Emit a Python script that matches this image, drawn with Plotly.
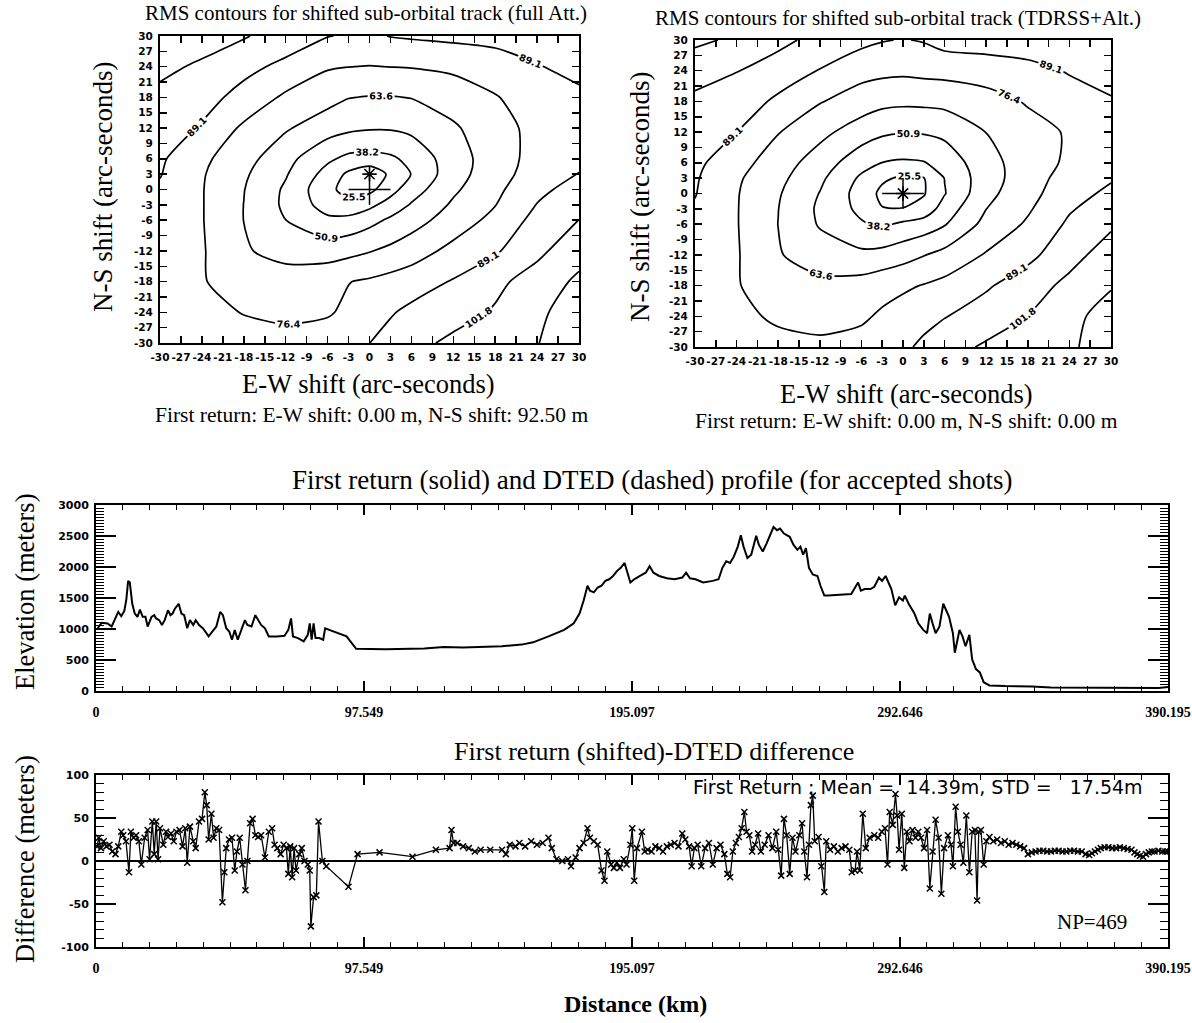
import plotly.graph_objects as go

# ---------------- data ----------------
# RMS grid (metres), on the arc-second shift grid
grid_arcsec = [-30, -24, -18, -12, -6, -3, 0, 3, 6, 12, 18, 24, 30]

rms_full_att = [
    [84, 82, 80, 80, 83, 86, 89, 93.5, 98, 104.5, 109.5, 114, 124],
    [83, 79, 76, 74, 75, 79, 83.5, 88, 92, 97, 103, 112, 121],
    [82, 77, 72, 70, 72.5, 76, 78, 80.5, 83, 90, 99, 107, 117],
    [84, 77.5, 65, 59, 58, 60, 63, 66.5, 70.5, 80, 87.5, 99, 109.5],
    [85, 77, 63.5, 51, 41, 42, 47, 53, 58.5, 69.5, 80, 93, 102],
    [86, 77, 63.5, 48.5, 32.5, 29.5, 35, 43.5, 52, 65.5, 76, 89.5, 98],
    [87.5, 77, 64, 49, 29, 20.5, 22, 33.5, 45, 61.5, 73.5, 86, 94],
    [89.7, 77.5, 65.5, 52, 33.5, 23, 16, 28, 38.5, 58.5, 71, 82.5, 89.5],
    [91, 79, 68.5, 55, 40.5, 35, 34, 36, 41.5, 58, 70, 81, 86],
    [95, 88, 74, 65, 56.5, 53.5, 52, 52, 54, 62, 71, 80.5, 85],
    [99, 93, 85.5, 74, 68, 64, 63, 63, 64, 69, 75.5, 83, 87],
    [104.5, 100, 92, 86.5, 77.5, 76.5, 76, 76.5, 77, 79, 83, 88.5, 92],
    [112, 107, 103, 95, 89.5, 88, 87, 89.5, 90.5, 92, 93, 94, 96],
]

rms_tdrss_alt = [
    [83.8, 81.2, 79, 78.5, 81, 84.2, 87.3, 91, 97, 103.5, 108, 112, 123],
    [82.8, 78.5, 75, 73, 74.4, 78.2, 82.1, 86.1, 88.5, 95.2, 102, 110.8, 120],
    [82.5, 77.1, 70.2, 67.2, 68.9, 72, 74.2, 77, 79.9, 87.5, 96.1, 105, 113.5],
    [84.2, 77.4, 64.6, 57, 53.8, 55.5, 59, 63.1, 67.5, 77.4, 85.6, 97.5, 107.6],
    [85.5, 77, 63.5, 49.8, 39.5, 36, 40.5, 44, 50, 67.5, 78, 91.2, 100],
    [88, 77, 63.8, 48.8, 35, 26, 26.3, 30, 44, 63.5, 74.8, 87.8, 96],
    [89.6, 77.2, 64.8, 50.5, 33, 22.5, 15, 24.5, 37.5, 60, 72.2, 84.2, 91.8],
    [90.4, 78.2, 67, 53.5, 36, 27.5, 23.5, 25, 38.5, 58.2, 70.5, 81.8, 87.8],
    [92, 81.2, 69.9, 57.5, 43, 38, 36.5, 37.5, 43, 59, 70.2, 78.5, 85.8],
    [96, 89.2, 76.9, 67.2, 57, 53, 51.5, 52, 54, 63.8, 72.1, 77.5, 83],
    [99, 94.8, 87.1, 77.1, 70.4, 67.1, 66.2, 66.4, 67.2, 71.5, 77.4, 84.4, 88.2],
    [107, 102.3, 94.8, 88.6, 80.5, 79.4, 78.8, 79.8, 80.4, 82.2, 85.5, 89.9, 93],
    [117, 112.5, 105.8, 97.1, 92.5, 89.8, 88.5, 90, 93.9, 95.2, 95.5, 95.4, 97],
]

rms_level_start = 25.46
rms_level_end = 114.6
rms_level_step = 12.724

# best-fit shift (asterisk) and nominal track (cross), arc-seconds
best_full_x, best_full_y = [0], [3]
best_tdrss_x, best_tdrss_y = [0], [0]
cross_x = [-3, 3, None, 0, 0]
cross_y = [0, 0, None, -3, 3]

shift_ticks = [-30, -27, -24, -21, -18, -15, -12, -9, -6, -3, 0,
               3, 6, 9, 12, 15, 18, 21, 24, 27, 30]
shift_labels = ["-30", "-27", "-24", "-21", "-18", "-15", "-12", "-9", "-6", "-3", "0",
                "3", "6", "9", "12", "15", "18", "21", "24", "27", "30"]

# elevation profile (km, metres)
dist_km = [0.4, 1.0, 2.1, 4.2, 5.7, 7.1, 8.1, 9.2, 10.3, 11.0, 11.7, 12.3, 13.2, 14.1, 15.1,
           16.0, 17.0, 18.0, 18.8, 20.2, 21.2, 21.9, 23.0, 24.0, 25.0, 26.2, 27.1, 27.9, 28.7,
           30.1, 31.1, 32.1, 33.2, 34.2, 35.4, 36.3, 37.5, 38.9, 41.0, 42.4, 43.8, 45.2, 46.2,
           47.4, 48.5, 49.5, 50.5, 51.6, 53.0, 54.2, 55.1, 56.6, 58.0, 59.0, 60.1, 61.5, 62.9,
           65.8, 68.6, 70.0, 71.0, 71.7, 73.5, 75.6, 77.1, 77.8, 78.5, 79.2, 79.9, 81.3, 82.7,
           83.4, 87.7, 91.2, 94.7, 105.3, 119.5, 126.6, 133.6, 140.7, 147.8, 154.9, 159.1,
           164.7, 170.4, 173.9, 176.0, 177.5, 178.9, 179.8, 181.2, 182.6, 184.0, 185.4, 186.8,
           188.2, 189.6, 191.0, 192.4, 194.5, 195.9, 198.0, 200.1, 201.5, 202.9, 205.0, 207.8,
           210.6, 213.4, 214.8, 216.2, 218.2, 221.0, 224.5, 226.6, 228.0, 229.4, 230.8, 232.2,
           233.6, 234.7, 235.7, 237.1, 238.5, 239.6, 240.3, 241.3, 242.7, 244.1, 245.5, 246.6,
           247.9, 249.0, 250.4, 252.5, 253.9, 255.3, 256.4, 257.4, 258.4, 259.5, 260.9, 262.6,
           263.7, 265.1, 266.5, 270.7, 274.9, 276.3, 277.4, 278.4, 279.8, 281.9, 283.3, 285.0,
           286.1, 287.4, 288.6, 289.5, 290.9, 292.3, 293.7, 294.4, 295.8, 297.9, 299.3, 301.1,
           302.5, 303.5, 304.5, 305.6, 307.0, 308.4, 310.5, 311.9, 312.6, 313.3, 314.3, 315.4,
           316.5, 317.9, 318.9, 320.3, 321.7, 323.1, 325.2, 330.8, 340.6, 347.6, 361.5, 375.5,
           386.7, 390.2]
elev_m = [985, 1040, 1100, 1090, 1040, 1196, 1275, 1207, 1290, 1460, 1776, 1750, 1407, 1250, 1196,
          1312, 1196, 1196, 1038, 1196, 1223, 1170, 1143, 1065, 1143, 1302, 1223, 1250, 1328,
          1407, 1250, 1223, 1012, 1143, 1065, 1143, 1065, 1012, 880, 960, 1040, 1275, 1223,
          1012, 960, 827, 985, 827, 985, 1143, 1065, 1040, 1223, 1143, 1065, 1012, 880,
          880, 890, 985, 1170, 880, 854, 800, 906, 1090, 827, 1090, 854, 854, 827,
          1012, 933, 880, 680, 675, 685, 711, 700, 706, 722, 748, 785,
          880, 985, 1091, 1250, 1460, 1697, 1618, 1592, 1670, 1697, 1776, 1802,
          1855, 1934, 1987, 2066, 1750, 1802, 1855, 1908, 2013, 1908, 1855, 1818,
          1802, 1829, 1908, 1818, 1802, 1750, 1776, 1802, 1987, 2092, 2066, 2171,
          2329, 2514, 2329, 2145, 2198, 2382, 2503, 2356, 2250, 2382, 2540, 2645,
          2593, 2619, 2540, 2487, 2356, 2277, 2329, 2198, 2303, 1987, 1881, 1855,
          1697, 1539, 1539, 1549, 1565, 1670, 1750, 1618, 1644, 1644, 1681, 1829,
          1776, 1855, 1750, 1644, 1381, 1512, 1460, 1539, 1407, 1249, 1091, 985,
          933, 1249, 1091, 933, 1038, 1407, 1196, 933, 617, 775, 985, 880,
          722, 906, 511, 353, 300, 142, 90, 79, 74, 58, 53, 47,
          47, 63]

# first return minus DTED (km, metres)
diff_km = [0.4, 1.0, 1.8, 2.8, 3.8, 4.9, 5.9, 7.1, 8.1, 9.2, 9.9, 10.9, 12.0, 12.7, 13.7, 14.6,
           15.6, 16.5, 17.7, 18.8, 19.5, 20.5, 21.2, 21.9, 22.6, 23.3, 24.5, 25.5, 26.2, 27.3,
           28.3, 29.3, 30.4, 31.5, 32.5, 33.2, 34.2, 35.4, 36.3, 37.5, 38.6, 39.6, 40.3, 41.0,
           42.0, 42.8, 43.8, 44.8, 46.0, 46.7, 47.4, 48.4, 49.5, 50.5, 51.3, 52.3, 53.3, 54.4,
           55.1, 56.1, 57.0, 58.0, 59.0, 60.1, 61.5, 62.9, 64.1, 65.0, 66.0, 67.2, 68.3, 69.3,
           70.0, 70.7, 71.4, 72.1, 72.8, 74.0, 74.9, 75.9, 77.1, 77.8, 78.2, 79.2, 80.2, 81.0,
           82.4, 83.8, 91.9, 95.2, 103.2, 115.2, 123.7, 128.7, 129.4, 130.1, 131.5, 133.6,
           135.7, 137.9, 140.0, 143.5, 147.8, 149.2, 150.6, 152.7, 154.1, 156.2, 158.4, 160.5,
           162.6, 164.7, 165.9, 167.6, 169.7, 171.8, 172.9, 174.6, 176.0, 177.5, 178.9,
           179.8, 181.2, 182.6, 184.0, 185.1, 186.1, 187.5, 188.5, 189.6, 190.7, 192.1, 193.1,
           194.5, 195.2, 195.9, 196.9, 198.7, 199.7, 200.8, 202.2, 203.6, 205.0, 206.4, 207.8,
           209.2, 210.6, 212.0, 213.4, 214.5, 215.9, 216.8, 217.8, 219.0, 220.3, 221.7, 223.1,
           224.5, 225.9, 227.3, 228.7, 229.8, 230.8, 231.8, 232.9, 234.0, 235.0, 236.0, 236.8,
           237.8, 238.8, 239.9, 241.0, 242.0, 243.4, 244.8, 246.2, 247.6, 248.3, 249.4, 250.4,
           251.4, 252.5, 253.5, 254.6, 256.0, 257.0, 257.8, 258.8, 259.5, 260.2, 260.9, 261.6,
           263.0, 264.0, 265.1, 265.8, 267.2, 268.6, 270.0, 271.4, 272.8, 274.2, 275.1, 276.3,
           277.0, 278.0, 279.1, 280.2, 281.6, 283.3, 284.7, 286.0, 287.2, 288.1, 288.9, 290.0,
           291.0, 291.6, 292.3, 293.3, 294.2, 295.1, 296.1, 297.2, 298.3, 299.3, 300.3, 301.4,
           302.5, 303.5, 304.5, 305.6, 306.7, 307.7, 308.7, 310.1, 311.2, 311.9, 312.9, 313.7,
           314.7, 315.7, 316.8, 317.9, 318.9, 319.9, 320.7, 321.3, 322.1, 323.1, 324.1, 325.2,
           326.6, 328.0, 329.4, 330.8, 332.2, 333.6, 335.0, 336.4, 337.8, 339.2, 340.6, 342.0,
           343.4, 344.8, 346.2, 347.6, 349.0, 350.4, 351.8, 353.2, 354.6, 356.0, 357.4, 358.8,
           360.2, 361.5, 362.5, 363.6, 364.7, 365.7, 367.1, 368.5, 369.9, 371.3, 372.7, 374.1,
           375.5, 376.9, 378.0, 379.0, 380.0, 381.1, 382.2, 383.2, 384.3, 385.3, 386.7, 388.1,
           389.2, 390.2]
diff_m = [17, 27, 15, 23, 17, 19, 11, 8, 17, 34, 30, 23, -13, 34, 27, 30,
          23, -4, 27, 36, 2, 46, 8, 46, 2, 38, 19, 34, 28, 32,
          23, 34, 36, 17, 38, -2, 40, 23, 15, 46, 49, 80, 65, 25,
          55, 27, 38, 36, -48, -13, 15, 25, 27, -11, 11, 27, -4, -34,
          0, 44, 49, 30, 28, 30, 4, 34, 38, 19, 15, 8, 19, 15,
          -15, 17, -19, 15, -11, 8, 15, 0, -4, -11, -76, -42, -40, 46,
          0, -6, -30, 8, 10, 5, 13, 15, 36, 21, 21, 17,
          15, 11, 13, 13, 13, 8, 19, 17, 21, 17, 23, 19,
          21, 27, 15, 2, 0, 2, -6, 4, 15, 21, 38,
          27, 23, 19, -11, -23, 11, -4, -8, -2, -8, 2, -4,
          19, 38, -23, 15, 34, 11, 13, 11, 17, 15, 11, 17,
          19, 21, 17, 32, 25, 17, -6, 15, 19, -6, 15, 21,
          -4, 15, 19, 8, -15, -19, 11, 21, 28, 38, 57, 34,
          30, 11, 19, 32, 11, 19, 30, 15, 34, 13, -17, 49,
          30, -15, 27, 11, 30, 44, 11, -19, 19, 65, 76, 23,
          28, -6, -36, 23, 13, 17, 11, 15, 17, 13, -13, -11,
          11, -11, 55, 15, 27, 30, 27, 34, 38, -4, 57, 42,
          78, 53, 13, 55, -8, 34, 23, 36, 27, 34, 27, 15,
          36, -32, 11, 48, 27, -38, 15, 30, 19, -6, 63, 34,
          19, -2, 53, -13, 34, 36, -46, 34, 36, -4, 23, 28,
          23, 25, 21, 23, 19, 21, 19, 17, 15, 8, 10, 11,
          12, 12, 11, 11, 12, 12, 11, 11, 12, 12, 11, 11,
          8, 7, 9, 11, 13, 15, 16, 16, 15, 15, 16, 15,
          14, 13, 10, 8, 6, 5, 8, 10, 11, 11, 12, 11,
          11, 11]

dist_ticks = [0, 97.549, 195.097, 292.646, 390.195]
dist_labels = ["0", "97.549", "195.097", "292.646", "390.195"]
elev_ticks = [0, 500, 1000, 1500, 2000, 2500, 3000]
elev_labels = ["0", "500", "1000", "1500", "2000", "2500", "3000"]
diff_ticks = [-100, -50, 0, 50, 100]
diff_labels = ["-100", "-50", "0", "50", "100"]

stats_text = "First Return : Mean =\u00a0\u00a014.39m, STD =\u00a0\u00a0\u00a017.54m"
np_text = "NP=469"

# ---------------- layout helpers ----------------
W, H = 1192, 1023


def px_x(v):
    return v / W


def px_y(v):
    return 1 - v / H


SERIF = "Liberation Serif"
SANS = "DejaVu Sans"
BLACK = "black"

fig = go.Figure()

contour_style = dict(
    contours=dict(start=rms_level_start, end=rms_level_end, size=rms_level_step,
                  coloring="lines", showlabels=True, labelformat=".1f",
                  labelfont=dict(family=SANS, size=9.5, color=BLACK, weight="bold")),
    colorscale=[[0, BLACK], [1, BLACK]],
    showscale=False,
    line=dict(width=1.7, smoothing=0.7),
    hoverinfo="skip",
)

fig.add_trace(go.Contour(x=grid_arcsec, y=grid_arcsec, z=rms_full_att,
                         xaxis="x", yaxis="y", **contour_style))
fig.add_trace(go.Scatter(x=cross_x, y=cross_y, mode="lines", xaxis="x", yaxis="y",
                         line=dict(color=BLACK, width=1.5), hoverinfo="skip"))
fig.add_trace(go.Scatter(x=best_full_x, y=best_full_y, mode="markers", xaxis="x", yaxis="y",
                         marker=dict(symbol="asterisk-open", size=12, color=BLACK,
                                     line=dict(color=BLACK, width=1.6)), hoverinfo="skip"))

fig.add_trace(go.Contour(x=grid_arcsec, y=grid_arcsec, z=rms_tdrss_alt,
                         xaxis="x2", yaxis="y2", **contour_style))
fig.add_trace(go.Scatter(x=cross_x, y=cross_y, mode="lines", xaxis="x2", yaxis="y2",
                         line=dict(color=BLACK, width=1.5), hoverinfo="skip"))
fig.add_trace(go.Scatter(x=best_tdrss_x, y=best_tdrss_y, mode="markers", xaxis="x2", yaxis="y2",
                         marker=dict(symbol="asterisk-open", size=12, color=BLACK,
                                     line=dict(color=BLACK, width=1.6)), hoverinfo="skip"))

fig.add_trace(go.Scatter(x=dist_km, y=elev_m, mode="lines", xaxis="x3", yaxis="y3",
                         line=dict(color=BLACK, width=2), hoverinfo="skip"))

fig.add_trace(go.Scatter(x=diff_km, y=diff_m, mode="lines+markers", xaxis="x4", yaxis="y4",
                         line=dict(color=BLACK, width=1.3),
                         marker=dict(symbol="x-thin-open", size=6, color=BLACK,
                                     line=dict(color=BLACK, width=1.5)), hoverinfo="skip"))


def contour_axis(domain, anchor):
    return dict(domain=domain, anchor=anchor, range=[-30, 30], tickmode="array",
                tickvals=shift_ticks, ticktext=shift_labels, tickangle=0, automargin=False,
                ticks="inside", ticklen=7, tickwidth=1.5, tickcolor=BLACK,
                showline=True, linewidth=2, linecolor=BLACK, mirror="ticks",
                showgrid=False, zeroline=False, ticklabelstandoff=3,
                ticklabeloverflow="allow",
                tickfont=dict(family=SANS, size=10.5, color=BLACK, weight="bold"))


def dist_axis(domain, anchor):
    return dict(domain=domain, anchor=anchor, range=[0, 390.195], tickmode="array",
                tickvals=dist_ticks, ticktext=dist_labels, tickangle=0, automargin=False,
                ticks="inside", ticklen=10, tickwidth=1.5, tickcolor=BLACK,
                minor=dict(ticks="inside", ticklen=5, tickwidth=1, tickcolor=BLACK,
                           tickmode="linear", tick0=0, dtick=9.7549, showgrid=False),
                showline=True, linewidth=2, linecolor=BLACK, mirror="ticks",
                showgrid=False, zeroline=False, ticklabelstandoff=7,
                ticklabeloverflow="allow",
                tickfont=dict(family=SERIF, size=14, color=BLACK, weight="bold"))


def value_axis(domain, anchor, rng, vals, labels, minor_step, zero):
    return dict(domain=domain, anchor=anchor, range=rng, tickmode="array",
                tickvals=vals, ticktext=labels, automargin=False,
                ticks="inside", ticklen=20, tickwidth=1.5, tickcolor=BLACK,
                minor=dict(ticks="inside", ticklen=8, tickwidth=1, tickcolor=BLACK,
                           tickmode="linear", tick0=0, dtick=minor_step, showgrid=False),
                showline=True, linewidth=2, linecolor=BLACK, mirror="ticks",
                showgrid=False, zeroline=zero, zerolinecolor=BLACK, zerolinewidth=1.5,
                ticklabelstandoff=3, ticklabeloverflow="allow",
                tickfont=dict(family=SANS, size=11, color=BLACK, weight="bold"))


fig.update_layout(
    width=W, height=H, autosize=False,
    margin=dict(l=0, r=0, t=0, b=0, autoexpand=False),
    paper_bgcolor="white", plot_bgcolor="white",
    showlegend=False,
    xaxis=contour_axis([px_x(160), px_x(579)], "y"),
    yaxis=contour_axis([px_y(343), px_y(36)], "x"),
    xaxis2=contour_axis([px_x(695), px_x(1111)], "y2"),
    yaxis2=contour_axis([px_y(347), px_y(40)], "x2"),
    xaxis3=dist_axis([px_x(96), px_x(1168)], "y3"),
    yaxis3=value_axis([px_y(691), px_y(505)], "x3", [0, 3000], elev_ticks, elev_labels, 50, False),
    xaxis4=dist_axis([px_x(96), px_x(1168)], "y4"),
    yaxis4=value_axis([px_y(947), px_y(775)], "x4", [-100, 100], diff_ticks, diff_labels, 10, True),
)


def ann(text, x, y, size, family=SERIF, angle=0, weight="normal", xanchor="center"):
    return dict(text=text, x=px_x(x), y=px_y(y), xref="paper", yref="paper",
                xanchor=xanchor, yanchor="middle", showarrow=False, textangle=angle,
                font=dict(family=family, size=size, color=BLACK, weight=weight))


fig.update_layout(annotations=[
    ann("RMS contours for shifted sub-orbital track (full Att.)", 366, 13, 21),
    ann("RMS contours for shifted sub-orbital track (TDRSS+Alt.)", 898, 18, 21),
    ann("E-W shift (arc-seconds)", 368, 384, 26.5),
    ann("E-W shift (arc-seconds)", 906, 394, 26.5),
    ann("First return: E-W shift: 0.00 m, N-S shift: 92.50 m", 371, 415, 21.5),
    ann("First return: E-W shift: 0.00 m, N-S shift: 0.00 m", 906, 421, 21.5),
    ann("N-S shift (arc-seconds)", 103, 187, 27, angle=-90),
    ann("N-S shift (arc-seconds)", 640, 197, 27, angle=-90),
    ann("First return (solid) and DTED (dashed) profile (for accepted shots)", 652, 480, 27),
    ann("Elevation (meters)", 25, 592, 26.5, angle=-90),
    ann("First return (shifted)-DTED difference", 654, 751, 26),
    ann("Difference (meters)", 25, 859, 26.5, angle=-90),
    ann("Distance (km)", 636, 1004, 24, weight="bold"),
    ann(stats_text, 918, 787, 19, family=SANS),
    ann(np_text, 1092, 922, 21),
])

# remove the default page margin so the 1192x1023 figure fills the window exactly
page_fix = ("document.body.style.margin='0';"
            "document.body.style.padding='0';"
            "document.body.style.overflow='hidden';")

fig.write_html("out.html", post_script=page_fix,
               config={"displayModeBar": False, "staticPlot": True})
